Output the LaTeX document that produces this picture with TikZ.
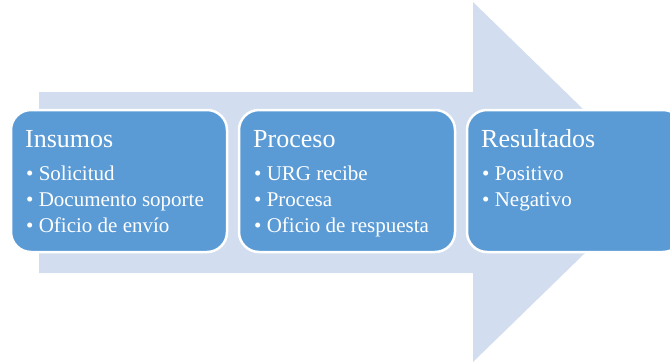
\documentclass[tikz,border=0pt]{standalone}
\usepackage{fontspec}
\setmainfont{Liberation Serif}
\usetikzlibrary{positioning}
\definecolor{flowlight}{RGB}{210,222,239}
\definecolor{stageblue}{RGB}{91,155,213}

\begin{document}
\begin{tikzpicture}[
    x=1pt, y=-1pt,
    stage/.style={
        draw=white,
        line width=2.5pt,
        fill=stageblue,
        rounded corners=20pt,
        minimum width=216pt,
        minimum height=142pt,
        inner sep=0pt,
        outer sep=0pt,
        anchor=north west
    },
    stagetitle/.style={text=white, font=\fontsize{26}{31}\selectfont, inner sep=0pt, anchor=base west},
    stagelist/.style={text=white, font=\fontsize{21}{26}\selectfont, align=left, inner sep=0pt, anchor=base west}
]
\useasboundingbox (0,0) rectangle (670,364);
\clip (0,0) rectangle (670,364);

% big background arrow
\fill[flowlight] (39,92) -- (473,92) -- (473,2) -- (658,182)
    -- (473,362) -- (473,273) -- (39,273) -- cycle;

\node[stage] (insumos) at (11,110) {};
\node[stage, right=12pt of insumos] (proceso) {};
\node[stage, right=12pt of proceso] (resultados) {};

% list anchors sit on the last line
\node[stagetitle] (insumos-t) at ([shift={(14pt,-37pt)}]insumos.north west) {Insumos};
\node[stagelist] (insumos-l) at ([shift={(15pt,-122pt)}]insumos.north west) {
    \textbullet\ Solicitud\\
    \textbullet\ Documento soporte\\
    \textbullet\ Oficio de envío
};

\node[stagetitle] (proceso-t) at ([shift={(14pt,-37pt)}]proceso.north west) {Proceso};
\node[stagelist] (proceso-l) at ([shift={(15pt,-122pt)}]proceso.north west) {
    \textbullet\ URG recibe\\
    \textbullet\ Procesa\\
    \textbullet\ Oficio de respuesta
};

\node[stagetitle] (resultados-t) at ([shift={(14pt,-37pt)}]resultados.north west) {Resultados};
\node[stagelist] (resultados-l) at ([shift={(15pt,-96pt)}]resultados.north west) {
    \textbullet\ Positivo\\
    \textbullet\ Negativo
};

\end{tikzpicture}
\end{document}
